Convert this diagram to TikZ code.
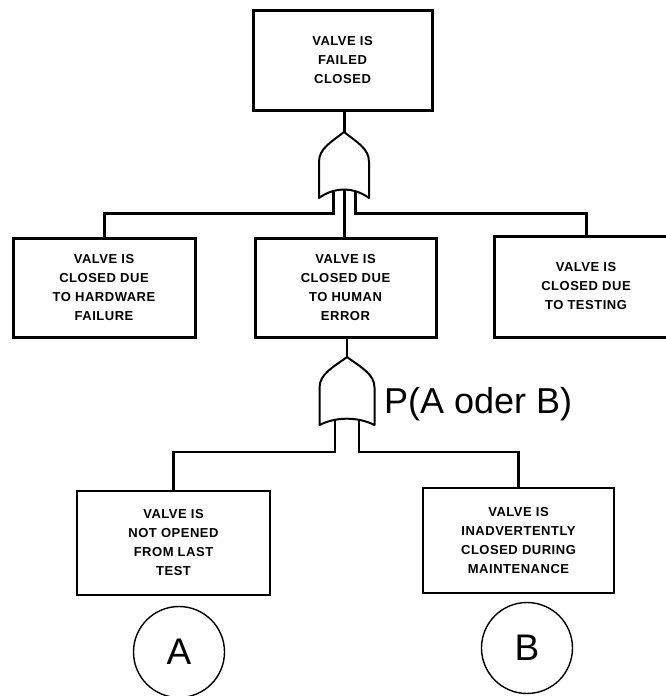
\documentclass[tikz,border=0pt]{standalone}
\usepackage{fontspec}
\setmainfont{Liberation Sans}
\newfontfamily\eventfont[LetterSpace=4]{Liberation Sans}
\usetikzlibrary{calc}
\begin{document}
\begin{tikzpicture}[x=1pt,y=-1pt,
  event/.style={draw, line width=3pt, align=center, inner sep=0pt,
    font=\eventfont\bfseries\fontsize{13}{19}\selectfont},
  basic/.style={event, line width=2.4pt},
  wire/.style={line width=3pt},
  thinwire/.style={line width=2.2pt},
  gateline/.style={line width=2pt, line join=round},
  tag/.style={draw, circle, line width=1.4pt, inner sep=0pt,
    minimum size=91pt, font=\fontsize{37}{40}\selectfont},
  % OR gate pointing up: #1 half width, #2 height, #3 depth of the concave base
  pics/orgate/.style n args={3}{code={
    \draw[gateline, fill=white]
      (-#1,#2) -- (-#1,0.45*#2)
      .. controls (-#1,0.25*#2) and (-0.5*#1,0.15*#2) .. (0,0)
      .. controls (0.5*#1,0.15*#2) and (#1,0.25*#2) .. (#1,0.45*#2)
      -- (#1,#2)
      .. controls (0.4*#1,#2-1.4*#3) and (-0.4*#1,#2-1.4*#3) .. cycle;
    \coordinate (-top) at (0,0);
    \coordinate (-inL) at (-0.44*#1,#2-0.78*#3);
    \coordinate (-inR) at (0.44*#1,#2-0.78*#3);
    \coordinate (-bot) at (0,#2-1.05*#3);
  }}]
\useasboundingbox (0,0) rectangle (666,696);

% events
\node[event, minimum width=179pt, minimum height=100pt] (top) at (342.5,60)
  {VALVE IS\\FAILED\\CLOSED};
\node[event, minimum width=182pt, minimum height=99pt] (hw) at (104,287.5)
  {VALVE IS\\CLOSED DUE\\TO HARDWARE\\FAILURE};
\node[event, minimum width=181pt, minimum height=99pt] (hum) at (345.5,287.5)
  {VALVE IS\\CLOSED DUE\\TO HUMAN\\ERROR};
\node[event, minimum width=184pt, minimum height=101pt] (tst) at (586,286.5)
  {VALVE IS\\CLOSED DUE\\TO TESTING};
\node[basic, minimum width=193pt, minimum height=104pt] (nop) at (173.5,543)
  {VALVE IS\\NOT OPENED\\FROM LAST\\TEST};
\node[basic, minimum width=191pt, minimum height=105pt] (mnt) at (518.5,540.5)
  {VALVE IS\\INADVERTENTLY\\CLOSED DURING\\MAINTENANCE};

% gates
\pic (g1) at (344,132) {orgate={25}{66}{8}};
\pic (g2) at (347,357) {orgate={27.5}{68}{6}};

\coordinate (bus1) at (0,213);
\coordinate (bus2) at (0,452);

% connectors of the upper gate
\draw[wire] (top.south -| g1-top) -- (g1-top);
\draw[wire] (g1-inL) |- (bus1 -| hw.north) -- (hw.north);
\draw[wire] (g1-inR) |- (bus1 -| tst.north) -- (tst.north);
\draw[wire] (g1-bot) -- (g1-bot |- hum.north);

% connectors of the lower gate
\draw[thinwire] (hum.south -| g2-top) -- (g2-top);
\draw[thinwire] (g2-inL) |- (bus2 -| nop.north) -- (nop.north);
\draw[thinwire] (g2-inR) |- (bus2 -| mnt.north) -- (mnt.north);

\node[anchor=base west, inner sep=0pt, font=\fontsize{36}{40}\selectfont]
  (pab) at (384,413) {P(A oder B)};

% event labels
\node[tag] (A) at (179,652) {A};
\node[tag] (B) at (527,648) {B};
\end{tikzpicture}
\end{document}
